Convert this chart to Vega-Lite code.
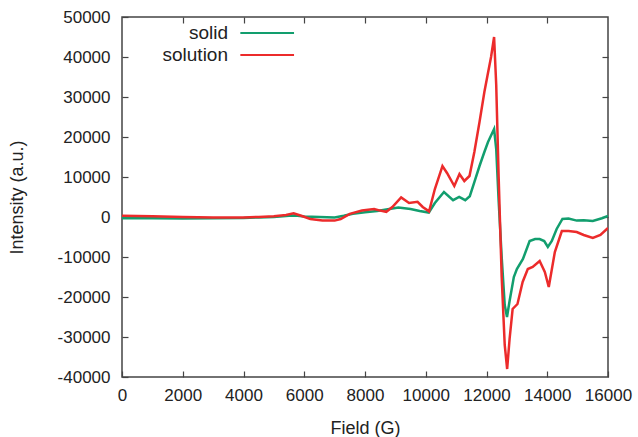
{
  "$schema": "https://vega.github.io/schema/vega-lite/v6.json",
  "width": 486,
  "height": 360,
  "autosize": {"type": "none"},
  "padding": {"left": 122, "top": 17, "right": 30, "bottom": 60},
  "background": "white",
  "config": {
    "view": {"stroke": "#444444", "strokeWidth": 1.5},
    "font": "Liberation Sans",
    "axis": {
      "grid": false,
      "domain": false,
      "tickColor": "#444444",
      "tickWidth": 1.2,
      "tickSize": -6,
      "labelOverlap": false,
      "labelFlush": false,
      "labelFont": "Liberation Sans",
      "labelFontSize": 17,
      "labelColor": "#222222",
      "titleFont": "Liberation Sans",
      "titleFontSize": 18,
      "titleFontWeight": "normal",
      "titleColor": "#222222"
    }
  },
  "data": {
    "values": [
      {"f": 0, "i": -300, "s": "solid"},
      {"f": 500, "i": -250, "s": "solid"},
      {"f": 1000, "i": -300, "s": "solid"},
      {"f": 2000, "i": -350, "s": "solid"},
      {"f": 3000, "i": -300, "s": "solid"},
      {"f": 4000, "i": -250, "s": "solid"},
      {"f": 4500, "i": -100, "s": "solid"},
      {"f": 5000, "i": 0, "s": "solid"},
      {"f": 5500, "i": 300, "s": "solid"},
      {"f": 5700, "i": 400, "s": "solid"},
      {"f": 6000, "i": 100, "s": "solid"},
      {"f": 6500, "i": 0, "s": "solid"},
      {"f": 7000, "i": -100, "s": "solid"},
      {"f": 7300, "i": 300, "s": "solid"},
      {"f": 7600, "i": 800, "s": "solid"},
      {"f": 8000, "i": 1200, "s": "solid"},
      {"f": 8400, "i": 1500, "s": "solid"},
      {"f": 8800, "i": 2000, "s": "solid"},
      {"f": 9100, "i": 2400, "s": "solid"},
      {"f": 9500, "i": 2000, "s": "solid"},
      {"f": 9800, "i": 1500, "s": "solid"},
      {"f": 10100, "i": 1100, "s": "solid"},
      {"f": 10300, "i": 3500, "s": "solid"},
      {"f": 10600, "i": 6250, "s": "solid"},
      {"f": 10900, "i": 4200, "s": "solid"},
      {"f": 11100, "i": 5000, "s": "solid"},
      {"f": 11300, "i": 4200, "s": "solid"},
      {"f": 11450, "i": 5200, "s": "solid"},
      {"f": 11600, "i": 8700, "s": "solid"},
      {"f": 11770, "i": 12750, "s": "solid"},
      {"f": 11930, "i": 16250, "s": "solid"},
      {"f": 12050, "i": 18750, "s": "solid"},
      {"f": 12250, "i": 22000, "s": "solid"},
      {"f": 12320, "i": 17000, "s": "solid"},
      {"f": 12400, "i": 4000, "s": "solid"},
      {"f": 12500, "i": -10000, "s": "solid"},
      {"f": 12600, "i": -22000, "s": "solid"},
      {"f": 12675, "i": -25000, "s": "solid"},
      {"f": 12760, "i": -21000, "s": "solid"},
      {"f": 12900, "i": -15000, "s": "solid"},
      {"f": 13000, "i": -13000, "s": "solid"},
      {"f": 13200, "i": -10500, "s": "solid"},
      {"f": 13420, "i": -6000, "s": "solid"},
      {"f": 13600, "i": -5500, "s": "solid"},
      {"f": 13750, "i": -5500, "s": "solid"},
      {"f": 13900, "i": -6000, "s": "solid"},
      {"f": 14020, "i": -7500, "s": "solid"},
      {"f": 14150, "i": -6000, "s": "solid"},
      {"f": 14310, "i": -3000, "s": "solid"},
      {"f": 14500, "i": -500, "s": "solid"},
      {"f": 14700, "i": -400, "s": "solid"},
      {"f": 14970, "i": -900, "s": "solid"},
      {"f": 15200, "i": -800, "s": "solid"},
      {"f": 15500, "i": -1000, "s": "solid"},
      {"f": 15800, "i": -300, "s": "solid"},
      {"f": 16000, "i": 300, "s": "solid"},
      {"f": 0, "i": 300, "s": "solution"},
      {"f": 500, "i": 250, "s": "solution"},
      {"f": 1000, "i": 200, "s": "solution"},
      {"f": 2000, "i": 0, "s": "solution"},
      {"f": 3000, "i": -100, "s": "solution"},
      {"f": 4000, "i": -100, "s": "solution"},
      {"f": 4500, "i": 0, "s": "solution"},
      {"f": 5000, "i": 200, "s": "solution"},
      {"f": 5400, "i": 500, "s": "solution"},
      {"f": 5650, "i": 900, "s": "solution"},
      {"f": 5900, "i": 300, "s": "solution"},
      {"f": 6200, "i": -500, "s": "solution"},
      {"f": 6600, "i": -900, "s": "solution"},
      {"f": 7000, "i": -900, "s": "solution"},
      {"f": 7200, "i": -500, "s": "solution"},
      {"f": 7500, "i": 800, "s": "solution"},
      {"f": 7900, "i": 1600, "s": "solution"},
      {"f": 8300, "i": 2000, "s": "solution"},
      {"f": 8500, "i": 1600, "s": "solution"},
      {"f": 8700, "i": 1300, "s": "solution"},
      {"f": 8900, "i": 2500, "s": "solution"},
      {"f": 9190, "i": 4900, "s": "solution"},
      {"f": 9450, "i": 3500, "s": "solution"},
      {"f": 9730, "i": 3800, "s": "solution"},
      {"f": 9900, "i": 2500, "s": "solution"},
      {"f": 10110, "i": 1400, "s": "solution"},
      {"f": 10300, "i": 7000, "s": "solution"},
      {"f": 10550, "i": 12750, "s": "solution"},
      {"f": 10700, "i": 11000, "s": "solution"},
      {"f": 10940, "i": 7750, "s": "solution"},
      {"f": 11110, "i": 10750, "s": "solution"},
      {"f": 11270, "i": 9000, "s": "solution"},
      {"f": 11440, "i": 10250, "s": "solution"},
      {"f": 11600, "i": 16250, "s": "solution"},
      {"f": 11770, "i": 23750, "s": "solution"},
      {"f": 11930, "i": 31250, "s": "solution"},
      {"f": 12030, "i": 35250, "s": "solution"},
      {"f": 12150, "i": 40000, "s": "solution"},
      {"f": 12250, "i": 45000, "s": "solution"},
      {"f": 12320, "i": 33000, "s": "solution"},
      {"f": 12400, "i": 10000, "s": "solution"},
      {"f": 12500, "i": -15000, "s": "solution"},
      {"f": 12600, "i": -32000, "s": "solution"},
      {"f": 12680, "i": -38000, "s": "solution"},
      {"f": 12760, "i": -30500, "s": "solution"},
      {"f": 12860, "i": -23000, "s": "solution"},
      {"f": 13020, "i": -21750, "s": "solution"},
      {"f": 13190, "i": -16250, "s": "solution"},
      {"f": 13360, "i": -13000, "s": "solution"},
      {"f": 13520, "i": -12500, "s": "solution"},
      {"f": 13750, "i": -11000, "s": "solution"},
      {"f": 13920, "i": -13750, "s": "solution"},
      {"f": 14050, "i": -17500, "s": "solution"},
      {"f": 14250, "i": -8750, "s": "solution"},
      {"f": 14480, "i": -3500, "s": "solution"},
      {"f": 14700, "i": -3500, "s": "solution"},
      {"f": 14970, "i": -3750, "s": "solution"},
      {"f": 15200, "i": -4500, "s": "solution"},
      {"f": 15500, "i": -5250, "s": "solution"},
      {"f": 15750, "i": -4500, "s": "solution"},
      {"f": 16000, "i": -2750, "s": "solution"}
    ]
  },
  "layer": [
    {
      "mark": {"type": "line", "strokeWidth": 2.5, "clip": true},
      "encoding": {
        "x": {
          "field": "f", "type": "quantitative",
          "scale": {"domain": [0, 16000], "nice": false, "zero": false},
          "axis": {"orient": "bottom", "values": [0, 2000, 4000, 6000, 8000, 10000, 12000, 14000, 16000], "labelExpr": "toString(datum.value)", "labelPadding": 16, "title": "Field (G)", "titlePadding": 16}
        },
        "y": {
          "field": "i", "type": "quantitative",
          "scale": {"domain": [-40000, 50000], "nice": false, "zero": false},
          "axis": {"orient": "left", "values": [-40000, -30000, -20000, -10000, 0, 10000, 20000, 30000, 40000, 50000], "labelExpr": "toString(datum.value)", "labelPadding": 18, "title": "Intensity (a.u.)", "titlePadding": 31}
        },
        "color": {
          "field": "s", "type": "nominal",
          "scale": {"domain": ["solid", "solution"], "range": ["#129e6e", "#ec2b2b"]},
          "legend": {
            "title": null,
            "orient": "none",
            "legendX": 117,
            "legendY": 6,
            "padding": 0,
            "rowPadding": 2,
            "symbolType": "M-1,0L5.2,0",
            "symbolSize": 300,
            "symbolStrokeWidth": 2,
            "labelAlign": "right",
            "labelOffset": -31,
            "labelFont": "Liberation Sans",
            "labelFontSize": 19,
            "labelColor": "#222222"
          }
        }
      }
    },
    {
      "mark": {"type": "line", "opacity": 0},
      "encoding": {
        "x": {
          "field": "f", "type": "quantitative",
          "axis": {"orient": "top", "values": [2000, 4000, 6000, 8000, 10000, 12000, 14000], "labels": false, "title": null}
        },
        "y": {
          "field": "i", "type": "quantitative",
          "axis": {"orient": "right", "values": [-30000, -20000, -10000, 0, 10000, 20000, 30000, 40000], "labels": false, "title": null}
        },
        "detail": {"field": "s", "type": "nominal"}
      }
    }
  ]
}
